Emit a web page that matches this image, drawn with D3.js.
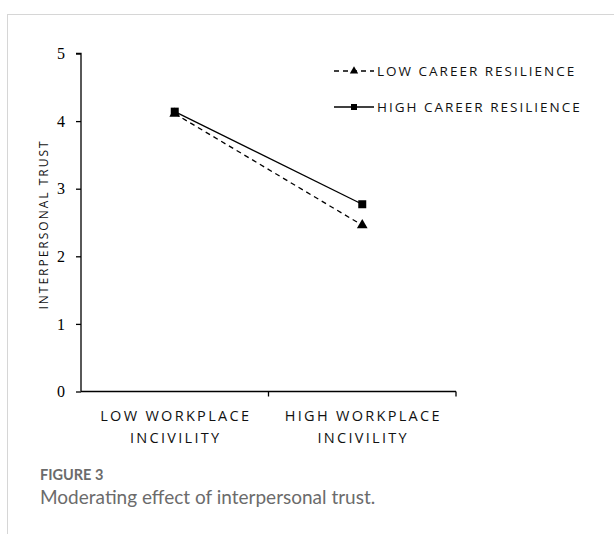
<!DOCTYPE html>
<html>
<head>
<meta charset="utf-8">
<script src="https://cdn.jsdelivr.net/npm/d3@7"></script>
<style>
body { margin: 0; background: #fff; overflow: hidden; }
.frame { position: absolute; left: 7px; top: 14px; width: 700px; height: 600px; border: 1.5px solid #d6d6d6; }
.cap1 { position: absolute; left: 40px; top: 466px; font-family: Lato, "Open Sans", sans-serif; font-size: 14.5px; font-weight: 700; color: #6b6b6b; }
.cap2 { position: absolute; left: 40px; top: 485px; font-family: Lato, "Open Sans", sans-serif; font-size: 19px; color: #6b6b6b; }
</style>
</head>
<body>
<div class="frame"></div>
<svg id="chart" width="614" height="534" style="position:absolute;left:0;top:0"></svg>
<div class="cap1">FIGURE 3</div>
<div class="cap2">Moderating effect of interpersonal trust.</div>
<script>
// Categories and series
var categories = ["LOW WORKPLACE INCIVILITY", "HIGH WORKPLACE INCIVILITY"];
var catLines = [["LOW WORKPLACE", "INCIVILITY"], ["HIGH WORKPLACE", "INCIVILITY"]];
var seriesNames = ["LOW CAREER RESILIENCE", "HIGH CAREER RESILIENCE"];
var lowResilience = [4.11, 2.46];
var highResilience = [4.14, 2.77];
var yTicks = [0, 1, 2, 3, 4, 5];

var svg = d3.select("#chart");

var x = d3.scaleBand().domain(categories).range([81, 456]);
var y = d3.scaleLinear().domain([0, 5]).range([391.5, 53.5]);

//Y axis
var yAxis = svg.append("g")
  .attr("transform", "translate(81,0)")
  .call(d3.axisLeft(y).tickValues(yTicks).tickSize(5).tickPadding(11).tickFormat(d3.format("d")));
yAxis.attr("font-family", "Liberation Serif").attr("font-size", 16);
yAxis.select(".domain").attr("stroke", "#000").attr("stroke-width", 1.3).attr("d", "M-5," + y(5) + "H0V" + y(0));
yAxis.selectAll(".tick line").attr("stroke", "#000").attr("stroke-width", 1.3);
yAxis.selectAll(".tick text")
  .style("font-family", "'Liberation Serif', 'Times New Roman', serif", "important")
  .style("font-size", "16px", "important")
  .attr("fill", "#000");

//X axis
var xAxis = svg.append("g")
  .attr("transform", "translate(0," + y(0) + ")")
  .call(d3.axisBottom(x).tickSize(0).tickFormat(""));
xAxis.select(".domain").attr("stroke", "#000").attr("stroke-width", 1.3).attr("d", "M81,0H456");
// boundary ticks between categories
var bounds = [x.range()[0] + x.bandwidth(), x.range()[1]];
xAxis.selectAll(".btick").data(bounds).enter().append("line")
  .attr("x1", function(d) { return d; }).attr("x2", function(d) { return d; })
  .attr("y1", 0).attr("y2", 5)
  .attr("stroke", "#000").attr("stroke-width", 1.3);

categories.forEach(function(c, i) {
  var t = xAxis.append("text")
    .attr("text-anchor", "middle")
    .style("font-family", "'Open Sans', sans-serif")
    .style("font-size", "14.5px")
    .attr("letter-spacing", 2.3)
    .attr("fill", "#111");
  catLines[i].forEach(function(line, j) {
    t.append("tspan")
      .attr("x", x(c) + x.bandwidth() / 2 + 1)
      .attr("y", 29 + j * 22)
      .text(line);
  });
});

//Y axis title
svg.append("text")
  .attr("transform", "translate(48," + (y(2.5) + 2) + ") rotate(-90)")
  .attr("text-anchor", "middle")
  .style("font-family", "'Open Sans', sans-serif")
  .style("font-size", "12px")
  .attr("letter-spacing", 2)
  .attr("fill", "#111")
  .text("INTERPERSONAL TRUST");

//Lines
var line = d3.line()
  .x(function(d, i) { return x(categories[i]) + x.bandwidth() / 2; })
  .y(function(d) { return y(d); });

svg.append("path").datum(lowResilience)
  .attr("d", line).attr("fill", "none")
  .attr("stroke", "#000").attr("stroke-width", 1.3)
  .attr("stroke-dasharray", "5,4");

svg.append("path").datum(highResilience)
  .attr("d", line).attr("fill", "none")
  .attr("stroke", "#000").attr("stroke-width", 1.3);

var tri = d3.symbol().type(d3.symbolTriangle).size(50);
var sq = d3.symbol().type(d3.symbolSquare).size(64);

svg.selectAll(".tri").data(lowResilience).enter().append("path")
  .attr("d", tri)
  .attr("transform", function(d, i) { return "translate(" + (x(categories[i]) + x.bandwidth() / 2) + "," + y(d) + ")"; })
  .attr("fill", "#000");

svg.selectAll(".sq").data(highResilience).enter().append("path")
  .attr("d", sq)
  .attr("transform", function(d, i) { return "translate(" + (x(categories[i]) + x.bandwidth() / 2) + "," + y(d) + ")"; })
  .attr("fill", "#000");

//Legend
var legend = svg.append("g").attr("transform", "translate(334,71)");
seriesNames.forEach(function(name, i) {
  var g = legend.append("g").attr("transform", "translate(0," + (i * 36) + ")");
  g.append("line").attr("x1", 0).attr("x2", 40).attr("y1", 0).attr("y2", 0)
    .attr("stroke", "#000").attr("stroke-width", 1.3)
    .attr("stroke-dasharray", i === 0 ? "5,4" : null);
  g.append("path")
    .attr("d", i === 0 ? d3.symbol().type(d3.symbolTriangle).size(30) : d3.symbol().type(d3.symbolSquare).size(36))
    .attr("transform", "translate(20,0)")
    .attr("fill", "#000");
  g.append("text")
    .attr("x", 43).attr("y", 0).attr("dy", "0.35em")
    .style("font-family", "'Open Sans', sans-serif")
    .style("font-size", "13.5px")
    .attr("letter-spacing", 2)
    .attr("fill", "#111")
    .text(name);
});
</script>
</body>
</html>
